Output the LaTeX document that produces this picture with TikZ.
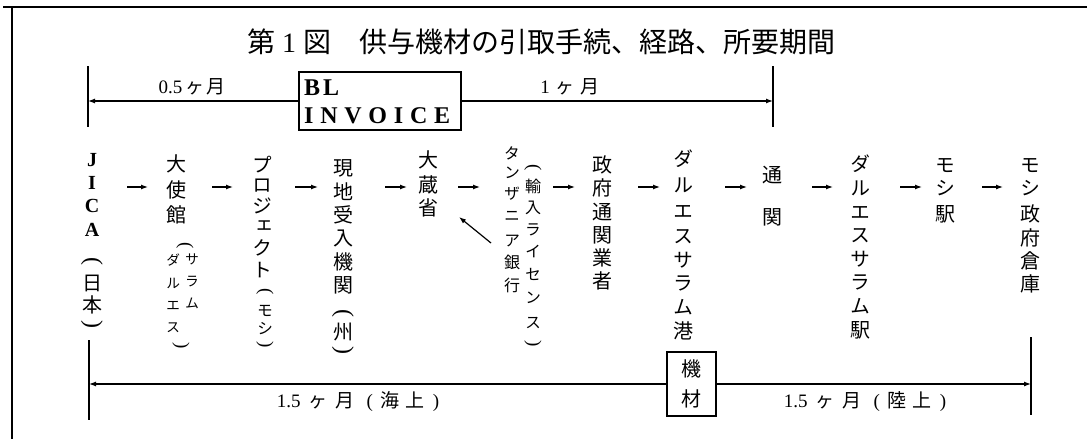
\documentclass[tikz,border=0pt]{standalone}
\usepackage{fontspec}
\setmainfont{Liberation Serif}
\newfontfamily\jp{Noto Sans CJK JP}
\newfontfamily\jpv[RawFeature=+vert]{Noto Sans CJK JP}
\usetikzlibrary{arrows.meta}

\tikzset{
  jpc/.style={font=\jpv\fontsize{20}{24}\selectfont, inner sep=0pt, text height=17.6pt, text depth=2.4pt},
  jps/.style={font=\jpv\fontsize{16}{20}\selectfont, inner sep=0pt, text height=14.1pt, text depth=1.9pt},
  jpw/.style={font=\jpv\fontsize{14}{18}\selectfont, inner sep=0pt, text height=12.3pt, text depth=1.7pt},
  lat/.style={font=\bfseries\fontsize{20}{22}\selectfont, inner sep=0pt},
  paren/.style={font=\fontsize{24}{26}\selectfont, inner sep=0pt, rotate=-90},
  sparen/.style={font=\fontsize{19}{22}\selectfont, inner sep=0pt, rotate=-90},
  arr/.style={line width=1.2pt, -{Latex[length=7pt,width=5pt]}},
  bar/.style={line width=1.4pt},
  frameline/.style={line width=1.6pt},
  boxed/.style={draw, line width=1.4pt},
  lbl/.style={font=\fontsize{19}{21}\selectfont, inner sep=0pt},
  boxtext/.style={anchor=base west, inner sep=0pt, font=\bfseries\fontsize{24}{28}\selectfont},
}

\newcommand\vchars[4]{%
  \foreach \cc/\yy [count=\k] in {#4} {\node[#2] (#1-\k) at (#3,\yy) {\cc};}}

\begin{document}
\begin{tikzpicture}[x=1pt,y=-1pt]
\useasboundingbox (0,0) rectangle (1087,439);
\fill[white] (0,0) rectangle (1087,439);

% frame
\draw[frameline] (3,7) -- (1087,7);
\draw[frameline] (12,7) -- (12,439);

% title
\node[anchor=base west, inner sep=0pt, font=\fontsize{28}{32}\selectfont] (title) at (247,52)
  {{\jp 第} 1 {\jp 図　供与機材の引取手続、経路、所要期間}};

% top row
\node[boxed, minimum width=162pt, minimum height=58pt] (bl) at (380,101) {};
\node[boxtext] (blt) at (304,95) {B\hspace{3pt}L};
\node[boxtext] (inv) at (304,123)
  {\makebox[146pt][l]{I\hfill N\hfill V\hfill O\hfill I\hfill C\hfill E}};
\coordinate (tl1) at (88,66);  \coordinate (tl2) at (88,127);
\coordinate (tr1) at (773,66); \coordinate (tr2) at (773,127);
\coordinate (tlm) at (88,101); \coordinate (trm) at (773,101);
\draw[bar] (tl1) -- (tl2);
\draw[bar] (tr1) -- (tr2);
\draw[arr] (bl.west) -- (tlm);
\draw[arr] (bl.east) -- (trm);
\node[lbl] (l05) at (192,87) {0.5\hspace{3pt}{\jp ヶ\hspace{2pt}月}};
\node[lbl] (l1) at (570,87) {1\hspace{6pt}{\jp ヶ\hspace{6pt}月}};

% columns
\vchars{ja}{lat}{92}{J/160,I/183,C/206,A/230}
\node[paren] (jp1) at (92,261) {(};
\vchars{jb}{jpc}{92}{日/283,本/305}
\node[paren] (jp2) at (92,324) {)};

\vchars{c2}{jpc}{176}{大/164,使/190,館/215}
\node[sparen] (c2p1) at (185,246) {(};
\vchars{c2r}{jpw}{192}{サ/259,ラ/281,ム/303}
\vchars{c2l}{jpw}{173}{ダ/260,ル/283,エ/305,ス/327}
\node[sparen] (c2p2) at (181,346) {)};

\vchars{c3}{jpc}{262}{プ/165,ロ/185,ジ/206,ェ/226,ク/248,ト/270}
\node[sparen] (c3p1) at (265,292) {(};
\vchars{c3s}{jps}{265}{モ/310,シ/328}
\node[sparen] (c3p2) at (265,345) {)};

\vchars{c4}{jpc}{343}{現/168,地/192,受/215,入/238,機/262,関/285}
\node[paren] (c4p1) at (343,313) {(};
\vchars{c4s}{jpc}{343}{州/332}
\node[paren] (c4p2) at (343,350) {)};

\vchars{c5}{jpc}{428}{大/160,蔵/185,省/208}

\vchars{c6l}{jps}{512}{タ/153,ン/172,ザ/193,ニ/215,ア/240,銀/262,行/285}
\node[sparen] (c6p1) at (533,168) {(};
\vchars{c6r}{jps}{533}{輸/186,入/207,ラ/229,イ/251,セ/274,ン/297,ス/322}
\node[sparen] (c6p2) at (533,344) {)};

\vchars{c7}{jpc}{602}{政/165,府/188,通/212,関/235,業/258,者/281}
\vchars{c8}{jpc}{683}{ダ/159,ル/185,エ/211,ス/236,サ/260,ラ/283,ム/307,港/331}
\vchars{c9}{jpc}{772}{通/175,関/217}
\vchars{c10}{jpc}{860}{ダ/164,ル/188,エ/212,ス/235,サ/259,ラ/282,ム/306,駅/330}
\vchars{c11}{jpc}{945}{モ/165,シ/188,駅/214}
\vchars{c12}{jpc}{1030}{モ/165,シ/188,政/214,府/238,倉/261,庫/284}

% flow arrows
\foreach \xa/\xb [count=\k] in {127/148,212/233,295/318,385/407,458/480,553/575,638/660,725/747,812/833,900/922,982/1003}{
  \coordinate (as\k) at (\xa,187);
  \coordinate (ae\k) at (\xb,187);
  \draw[arr] (as\k) -- (ae\k);
}
\coordinate (ds) at (491,243);
\coordinate (de) at (459,217);
\draw[arr] (ds) -- (de);

% bottom row
\node[boxed, minimum width=49pt, minimum height=64pt, inner sep=0pt, align=center,
      font=\jp\fontsize{20}{30}\selectfont] (kizai) at (691.5,384) {機\\材};
\coordinate (bl1) at (89,340);   \coordinate (bl2) at (89,420);
\coordinate (br1) at (1031,337); \coordinate (br2) at (1031,415);
\coordinate (blm) at (89,384);   \coordinate (brm) at (1031,384);
\draw[bar] (bl1) -- (bl2);
\draw[bar] (br1) -- (br2);
\draw[arr] (kizai.west) -- (blm);
\draw[arr] (kizai.east) -- (brm);
\node[lbl] (sea) at (358,402)
  {1.5\hspace{8pt}{\jp ヶ\hspace{8pt}月}\hspace{12pt}(\hspace{8pt}{\jp 海\hspace{6pt}上}\hspace{8pt})};
\node[lbl] (land) at (865,402)
  {1.5\hspace{8pt}{\jp ヶ\hspace{8pt}月}\hspace{12pt}(\hspace{8pt}{\jp 陸\hspace{6pt}上}\hspace{8pt})};
\end{tikzpicture}
\end{document}
